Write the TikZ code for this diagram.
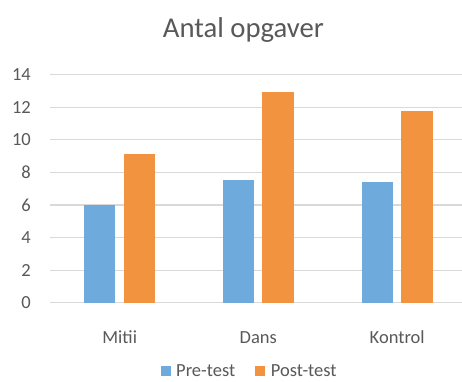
\documentclass[tikz,border=0pt]{standalone}
\usepackage{fontspec}
\setmainfont{Carlito}
\definecolor{pre}{HTML}{6EABDC}
\definecolor{post}{HTML}{F29340}
\definecolor{grid}{HTML}{D9D9D9}
\definecolor{txt}{HTML}{595959}
\begin{document}
\begin{tikzpicture}[x=1pt,y=-1pt,
  gridline/.style={draw=grid,line width=1.2pt},
  prebar/.style={fill=pre},
  postbar/.style={fill=post},
  ticklabel/.style={anchor=east,text=txt,inner sep=0pt,font=\fontsize{18.5}{20}\selectfont},
  catlabel/.style={anchor=base,text=txt,inner sep=0pt,font=\fontsize{18.5}{20}\selectfont},
  legtext/.style={anchor=base west,text=txt,inner sep=0pt,font=\fontsize{18.5}{20}\selectfont},
  titletext/.style={anchor=base,text=txt,inner sep=0pt,font=\fontsize{28.7}{32}\selectfont}]
\useasboundingbox[fill=white] (0,0) rectangle (462,381);
\def\yv#1{{302.7-16.3*(#1)}}
% gridlines and tick labels
\foreach \v in {0,2,...,14}{
  \draw[gridline] (50,\yv{\v}) -- (462,\yv{\v});
  \node[ticklabel] (tick\v) at (31,\yv{\v}) {\v};
}
% bars
\foreach \c/\a/\b/\name in {119.7/6.0/9.1/Mitii, 258.3/7.55/12.9/Dans, 397.2/7.4/11.75/Kontrol}{
  \fill[prebar] (\c-35.3,\yv{0}) rectangle (\c-4.5,\yv{\a});
  \fill[postbar] (\c+4,\yv{0}) rectangle (\c+35.3,\yv{\b});
  \node[catlabel] (cat\name) at (\c,343.3) {\name};
}
% title
\node[titletext] (title) at (243.4,37.3) {Antal opgaver};
% legend
\fill[prebar] (160.7,366) rectangle (170.7,376);
\node[legtext] (legpre) at (176,376) {Pre-test};
\fill[postbar] (255,366) rectangle (265,376);
\node[legtext] (legpost) at (270.7,376) {Post-test};
\end{tikzpicture}
\end{document}
